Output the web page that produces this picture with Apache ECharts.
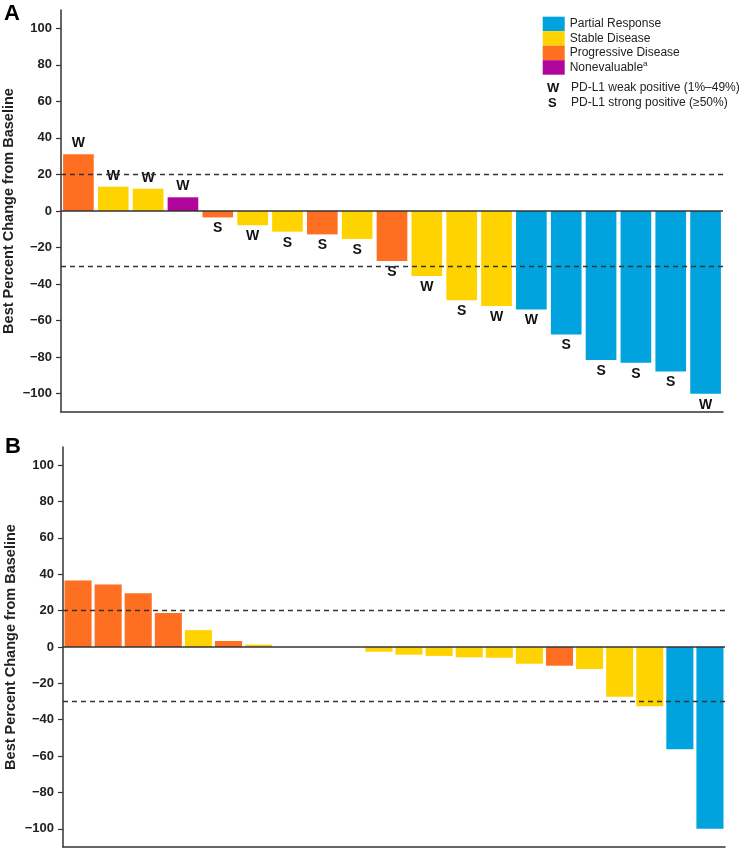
<!DOCTYPE html>
<html><head><meta charset="utf-8">
<script src="https://cdn.jsdelivr.net/npm/echarts@6/dist/echarts.min.js"></script>
<style>html,body{margin:0;padding:0;background:#fff}#c{width:747px;height:851px}</style>
</head><body><div id="c"></div>
<script>
// ---- data ----
const responseCodes = ['PR', 'SD', 'PD', 'NE'];
const responseNames = ['Partial Response', 'Stable Disease', 'Progressive Disease', 'Nonevaluable'];
const responseColors = ['#00A3DE', '#FFD300', '#FF6F22', '#B0069A'];
const yTickLabels = [-100, -80, -60, -40, -20, 0, 20, 40, 60, 80, 100];
const thresholds = [20, -30];
const yAxisTitle = 'Best Percent Change from Baseline';

const valuesA = [31, 13.3, 12.2, 7.5, -3.5, -7.8, -11.3, -12.8, -15.3, -27.4, -35.6, -48.8, -52, -53.9, -67.6, -81.5, -83.1, -87.9, -100];
const responseA = ['PD', 'SD', 'SD', 'NE', 'PD', 'SD', 'SD', 'PD', 'SD', 'PD', 'SD', 'SD', 'SD', 'PR', 'PR', 'PR', 'PR', 'PR', 'PR'];
const pdl1A = ['W', 'W', 'W', 'W', 'S', 'W', 'S', 'S', 'S', 'S', 'W', 'S', 'W', 'W', 'S', 'S', 'S', 'S', 'W'];

const valuesB = [36.6, 34.4, 29.5, 18.7, 9.3, 3.3, 1.3, 0, 0, 0, -2.6, -4.2, -4.9, -5.7, -5.9, -9.2, -10.3, -12.1, -27.3, -32.6, -56.2, -100];
const responseB = ['PD', 'PD', 'PD', 'PD', 'SD', 'PD', 'SD', 'SD', 'SD', 'SD', 'SD', 'SD', 'SD', 'SD', 'SD', 'SD', 'PD', 'SD', 'SD', 'SD', 'PR', 'PR'];

const patientsA = valuesA.map((_, i) => 'A' + (i + 1));
const patientsB = valuesB.map((_, i) => 'B' + (i + 1));

// ---- chart ----
const FONT = '"Liberation Sans", Arial, sans-serif';
const chart = echarts.init(document.getElementById('c'), null, { renderer: 'canvas' });

function makeSeries(gridIdx, values, resp, labels, gapPct) {
  const out = [];
  responseCodes.forEach((code, k) => {
    if (!resp.includes(code)) return;
    const data = values.map((v, i) => {
      if (resp[i] !== code) return '-';
      const item = { value: v };
      if (labels) {
        item.label = { show: true, position: v >= 0 ? 'top' : 'bottom', formatter: labels[i] };
      }
      return item;
    });
    out.push({
      type: 'bar', name: responseNames[k], xAxisIndex: gridIdx, yAxisIndex: gridIdx,
      data, barGap: '-100%', barCategoryGap: gapPct,
      itemStyle: { color: responseColors[k] },
      label: { show: false, distance: 4, fontFamily: FONT, fontWeight: 'bold', fontSize: 14, color: '#111' },
      silent: true, animation: false
    });
  });
  out[0].markLine = {
    silent: true, symbol: 'none', animation: false,
    label: { show: false },
    data: [
      { yAxis: 0, lineStyle: { type: 'solid', color: '#333', width: 1.5 } },
      ...thresholds.map(t => ({ yAxis: t, lineStyle: { type: [5, 4], color: '#333', width: 1.4 } }))
    ]
  };
  return out;
}

function yAxisCfg(gridIdx) {
  return {
    type: 'value', gridIndex: gridIdx, min: -110, max: 110,
    name: yAxisTitle, nameLocation: 'middle', nameGap: 45, nameMoveOverlap: false,
    nameTextStyle: { fontFamily: FONT, fontWeight: 'bold', fontSize: 14.5, color: '#222' },
    axisLine: { show: true, lineStyle: { color: '#333', width: 1.5 } },
    axisTick: { show: true, length: 5, customValues: yTickLabels, lineStyle: { color: '#333', width: 1.2 } },
    axisLabel: {
      customValues: yTickLabels, margin: 9,
      fontFamily: FONT, fontWeight: 'bold', fontSize: 13, color: '#222',
      formatter: v => String(v).replace('-', '\u2212')
    },
    splitLine: { show: false }
  };
}
function xAxisCfg(gridIdx, cats) {
  return {
    type: 'category', gridIndex: gridIdx, data: cats,
    axisLine: { show: true, onZero: false, lineStyle: { color: '#333', width: 1.5 } },
    axisTick: { show: false }, axisLabel: { show: false }, splitLine: { show: false }
  };
}

const option = {
  backgroundColor: '#fff',
  animation: false,
  grid: [
    { left: 61, top: 10, width: 662, height: 402, outerBoundsMode: 'none', containLabel: false },
    { left: 63, top: 447, width: 662, height: 400, outerBoundsMode: 'none', containLabel: false }
  ],
  xAxis: [xAxisCfg(0, patientsA), xAxisCfg(1, patientsB)],
  yAxis: [yAxisCfg(0), yAxisCfg(1)],
  legend: {
    orient: 'vertical', left: 542.7, top: 16.7, padding: 0,
    icon: 'rect', itemWidth: 22, itemHeight: 14.5, itemGap: 0,
    selectedMode: false,
    data: responseNames,
    textStyle: {
      fontFamily: FONT, fontSize: 12, color: '#222', lineHeight: 14.5,
      rich: { sup: { fontFamily: FONT, fontSize: 8, color: '#222', verticalAlign: 'top', lineHeight: 14.5, padding: [0, 0, 4, 0] } }
    },
    formatter: n => n === 'Nonevaluable' ? 'Nonevaluable{sup|a}' : n
  },
  graphic: [
    { type: 'text', left: 4, top: 3, style: { text: 'A', fontFamily: FONT, fontWeight: 'bold', fontSize: 22, fill: '#000' } },
    { type: 'text', left: 5, top: 436, style: { text: 'B', fontFamily: FONT, fontWeight: 'bold', fontSize: 22, fill: '#000' } },
    { type: 'text', left: 547, top: 81.5, style: { text: 'W', fontFamily: FONT, fontWeight: 'bold', fontSize: 13, fill: '#111' } },
    { type: 'text', left: 571, top: 82, style: { text: 'PD-L1 weak positive (1%\u201349%)', fontFamily: FONT, fontSize: 12, fill: '#222' } },
    { type: 'text', left: 548, top: 96.5, style: { text: 'S', fontFamily: FONT, fontWeight: 'bold', fontSize: 13, fill: '#111' } },
    { type: 'text', left: 571, top: 97, style: { text: 'PD-L1 strong positive (\u226550%)', fontFamily: FONT, fontSize: 12, fill: '#222' } }
  ],
  series: [
    ...makeSeries(0, valuesA, responseA, pdl1A, '12%'),
    ...makeSeries(1, valuesB, responseB, null, '10%')
  ]
};
chart.setOption(option);
</script>
</body></html>
